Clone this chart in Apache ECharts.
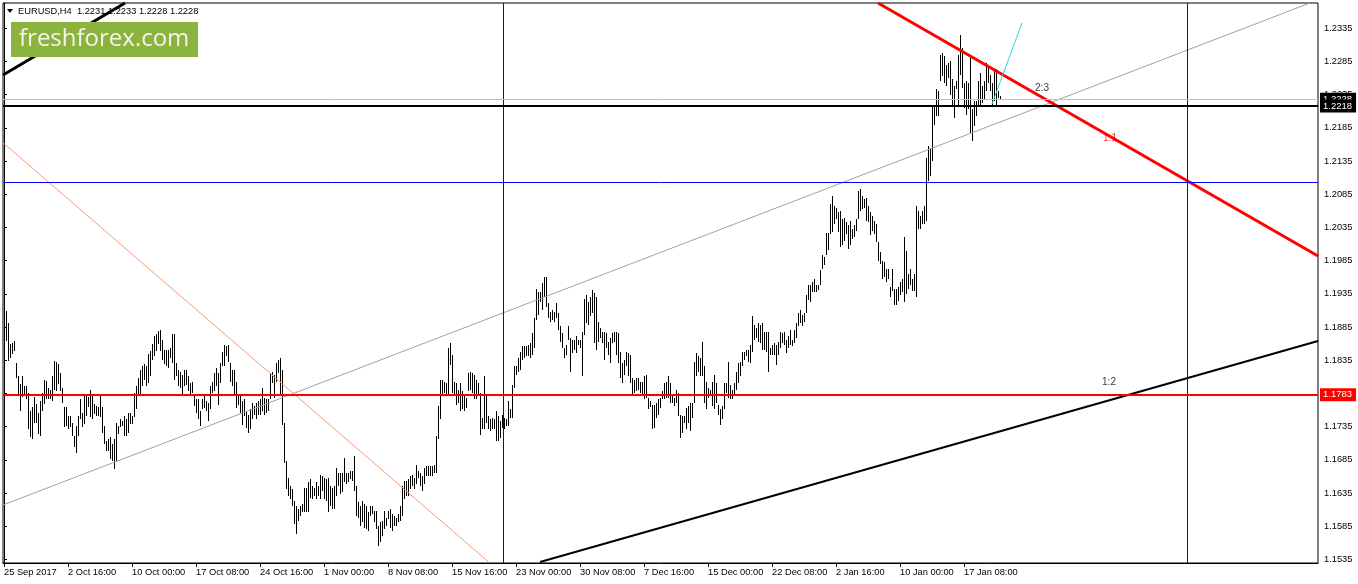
<!DOCTYPE html>
<html>
<head>
<meta charset="utf-8">
<script src="https://cdn.jsdelivr.net/npm/echarts@6.0.0/dist/echarts.min.js"></script>
<style>
html,body{margin:0;padding:0;background:#fff;}
#chart{width:1358px;height:584px;}
</style>
</head>
<body>
<div id="chart"></div>
<script>
// EURUSD H4, one entry per bar (high / low)
var barHigh = [
1.1936,1.1909,1.1891,1.1859,1.1861,1.1864,1.1831,1.1811,1.1799,1.1811,
1.1796,1.1796,1.1786,1.1759,1.1764,1.1779,1.1769,1.1756,1.1774,1.1786,
1.1806,1.1804,1.1794,1.1791,1.1811,1.1834,1.1832,1.1829,1.1816,1.1794,
1.1764,1.1764,1.1751,1.1751,1.1741,1.1721,1.1736,1.1751,1.1776,1.1756,
1.1784,1.1781,1.1779,1.1790,1.1784,1.1769,1.1766,1.1764,1.1781,1.1764,
1.1736,1.1714,1.1716,1.1719,1.1709,1.1716,1.1741,1.1736,1.1746,1.1744,
1.1751,1.1746,1.1756,1.1756,1.1751,1.1786,1.1796,1.1809,1.1821,1.1826,
1.1829,1.1826,1.1844,1.1849,1.1859,1.1871,1.1874,1.1879,1.1881,1.1866,
1.1851,1.1851,1.1851,1.1854,
1.1875,1.1875,1.1831,1.1821,1.1818,1.1813,
1.1821,1.1821,1.1811,1.1801,1.1803,1.1781,1.1776,1.1776,1.1758,1.1776,
1.1781,1.1773,1.1771,1.1796,1.1803,1.1816,1.1823,1.1816,1.1831,1.1848,
1.1858,1.1856,1.1858,1.1831,1.1821,1.1821,1.1803,1.1781,1.1783,1.1773,
1.1776,1.1758,1.1753,1.1761,1.1771,1.1766,1.1771,1.1773,1.1776,1.1793,
1.1778,1.1776,1.1776,1.1816,1.1818,1.1813,1.1831,1.1836,1.1838,1.1821,
1.1741,1.1683,1.1658,1.1646,1.1641,1.1623,1.1616,1.1611,1.1616,1.1618,
1.1643,1.1643,1.1651,1.1656,1.1646,1.1643,1.1651,1.1646,1.1663,1.1661,
1.1658,1.1656,1.1658,1.1646,1.1643,1.1646,
1.1673,1.1666,1.1666,1.1666,
1.1688,1.1666,1.1666,1.1668,1.1668,1.1691,1.1646,1.1621,1.1616,1.1623,
1.1618,1.1616,1.1606,1.1616,1.1616,1.1608,1.1608,1.1586,1.1591,1.1593,
1.1608,1.1598,1.1608,1.1611,1.1603,1.1601,1.1598,1.1603,1.1616,1.1646,
1.1653,1.1653,1.1656,1.1661,1.1663,1.1658,1.1678,1.1668,1.1666,1.1661,
1.1673,1.1676,1.1676,1.1676,1.1676,1.1678,1.1721,1.1766,1.1806,1.1806,
1.1803,1.1801,1.1853,1.1861,1.1843,1.1803,1.1801,1.1791,1.1801,1.1788,
1.1781,1.1778,1.1816,1.1818,1.1816,1.1813,1.1806,1.1801,1.1786,1.1748,
1.1811,1.1783,1.1751,1.1746,1.1748,1.1746,1.1758,1.1751,1.1743,
1.1753,
1.1748,1.1746,1.1773,1.1761,1.1798,1.1826,1.1826,1.1838,1.1848,1.1856,
1.1856,1.1856,1.1858,1.1861,1.1876,1.1898,1.1943,1.1938,1.1938,1.1951,
1.1961,1.1961,1.1921,1.1908,1.1911,1.1908,1.1921,1.1906,1.1886,1.1876,
1.1853,1.1858,1.1886,1.1868,1.1866,1.1866,1.1871,1.1866,1.1866,1.1878,
1.1928,1.1933,1.1923,1.1931,1.1941,1.1936,1.1931,1.1893,1.1883,1.1878,
1.1878,1.1876,1.1863,1.1868,1.1876,1.1878,1.1878,1.1876,1.1848,1.1831,
1.1836,1.1848,1.1846,1.1843,1.1808,1.1806,1.1808,1.1808,1.1803,1.1803,
1.1811,1.1813,1.1778,1.1773,1.1768,1.1768,1.1771,1.1776,1.1778,1.1788,1.1801,
1.1803,1.1811,1.1801,1.1781,1.1778,1.1791,1.1786,1.1753,1.1751,
1.1751,1.1763,1.1766,1.1771,1.1771,1.1833,1.1846,1.1841,1.1838,1.1863,
1.1826,1.1803,1.1793,1.1791,1.1803,1.1813,1.1801,1.1768,1.1761,1.1766,
1.1801,1.1801,1.1833,1.1798,1.1791,1.1801,1.1818,1.1831,1.1833,1.1848,
1.1848,1.1851,1.1851,1.1858,1.1901,1.1888,1.1883,1.1891,1.1888,1.1891,
1.1878,1.1878,1.1878,1.1853,1.1858,1.1861,1.1858,1.1863,1.1878,1.1876,
1.1878,1.1866,1.1871,1.1881,1.1866,1.1881,1.1891,1.1906,1.1911,1.1903,
1.1906,1.1933,1.1948,1.1948,1.1953,1.1958,1.1948,1.1948,1.1971,1.1993,
1.1991,1.2026,1.2026,
1.2070,1.2083,1.2068,1.2065,1.2058,1.2060,1.2048,
1.2050,1.2043,1.2038,1.2045,1.2033,1.2038,1.2048,1.2090,1.2093,1.2083,
1.2078,1.2080,1.2068,1.2058,1.2053,1.2045,1.2040,1.2013,1.1998,1.1985,
1.1983,1.1973,1.1973,1.1945,1.1973,1.1943,1.1943,1.1945,1.1953,1.1958,
1.2020,1.2000,1.1965,1.1973,1.1958,1.1965,1.2068,1.2060,1.2053,1.2060,
1.2068,1.2140,1.2158,1.2155,1.2220,1.2220,1.2243,1.2240,1.2295,1.2298,
1.2293,1.2280,1.2283,1.2285,1.2258,1.2248,1.2255,1.2295,1.2325,1.2305,
1.2253,1.2255,1.2253,1.2290,1.2213,1.2225,1.2225,1.2255,1.2268,1.2248,
1.2255,1.2283,1.2280,1.2265,1.2253,1.2270,1.2273,1.2240,1.2233
];
var barLow = [
1.1899,1.1864,1.1834,1.1839,1.1844,1.1849,1.1809,1.1781,1.1759,1.1779,
1.1781,1.1776,1.1731,1.1719,1.1717,1.1741,1.1741,1.1724,1.1721,1.1759,
1.1769,1.1776,1.1776,1.1776,1.1774,1.1791,1.1789,1.1799,1.1789,1.1771,
1.1734,1.1736,1.1731,1.1734,1.1721,1.1704,1.1696,1.1721,1.1746,1.1734,
1.1739,1.1751,1.1764,1.1749,1.1746,1.1754,1.1751,1.1751,1.1749,1.1726,
1.1709,1.1699,1.1699,1.1686,1.1684,1.1671,1.1684,1.1724,1.1734,1.1736,
1.1721,1.1721,1.1726,1.1739,1.1739,1.1749,1.1761,1.1784,1.1784,1.1796,
1.1806,1.1796,1.1801,1.1811,1.1836,1.1841,1.1849,1.1859,1.1849,1.1836,
1.1829,1.1826,1.1824,1.1839,
1.1831,1.1806,1.1811,1.1796,1.1793,1.1783,
1.1796,1.1798,1.1788,1.1783,1.1786,1.1766,1.1756,1.1746,1.1736,1.1761,
1.1763,1.1758,1.1743,1.1761,1.1786,1.1788,1.1796,1.1768,1.1801,1.1826,
1.1826,1.1841,1.1833,1.1803,1.1796,1.1783,1.1763,1.1768,1.1756,1.1738,
1.1751,1.1733,1.1726,1.1731,1.1746,1.1753,1.1746,1.1753,1.1753,1.1758,
1.1753,1.1756,1.1758,1.1776,1.1801,1.1778,1.1803,1.1816,1.1781,1.1738,
1.1681,1.1641,1.1631,1.1626,1.1616,1.1588,1.1573,1.1593,1.1601,1.1606,
1.1606,1.1606,1.1606,1.1628,1.1626,1.1631,1.1626,1.1631,1.1626,1.1638,
1.1626,1.1623,1.1606,1.1616,1.1611,1.1611,
1.1631,1.1646,1.1633,1.1636,
1.1651,1.1648,1.1651,1.1656,1.1653,1.1638,1.1601,1.1598,1.1586,1.1591,
1.1583,1.1581,1.1578,1.1601,1.1603,1.1591,1.1581,1.1556,1.1561,1.1571,
1.1581,1.1586,1.1596,1.1583,1.1578,1.1586,1.1586,1.1591,1.1593,1.1601,
1.1626,1.1631,1.1631,1.1641,1.1646,1.1641,1.1648,1.1658,1.1646,1.1638,
1.1648,1.1661,1.1661,1.1661,1.1661,1.1666,1.1666,1.1716,1.1746,1.1781,
1.1786,1.1783,1.1783,1.1828,1.1786,1.1783,1.1768,1.1771,1.1758,1.1761,
1.1758,1.1763,1.1788,1.1791,1.1786,1.1776,1.1776,1.1783,1.1723,1.1731,
1.1731,1.1741,1.1731,1.1728,1.1731,1.1731,1.1713,1.1713,1.1718,
1.1733,
1.1731,1.1736,1.1736,1.1748,1.1748,1.1793,1.1813,1.1818,1.1821,1.1836,
1.1838,1.1841,1.1841,1.1838,1.1843,1.1853,1.1896,1.1903,1.1923,1.1911,
1.1931,1.1916,1.1898,1.1893,1.1896,1.1893,1.1898,1.1881,1.1863,1.1853,
1.1838,1.1843,1.1866,1.1818,1.1846,1.1851,1.1846,1.1858,1.1853,1.1811,
1.1873,1.1891,1.1888,1.1901,1.1906,1.1861,1.1851,1.1863,1.1868,1.1861,
1.1836,1.1853,1.1843,1.1831,1.1861,1.1863,1.1843,1.1831,1.1808,1.1801,
1.1813,1.1826,1.1811,1.1801,1.1783,1.1786,1.1788,1.1791,1.1786,1.1783,
1.1776,1.1778,1.1761,1.1764,1.1731,1.1733,1.1748,1.1753,1.1763,1.1776,1.1776,
1.1778,1.1778,1.1771,1.1771,1.1766,1.1771,1.1751,1.1718,1.1726,
1.1741,1.1731,1.1741,1.1728,1.1748,1.1771,1.1811,1.1818,1.1811,1.1811,
1.1771,1.1761,1.1778,1.1781,1.1766,1.1761,1.1771,1.1753,1.1738,1.1746,
1.1761,1.1786,1.1778,1.1776,1.1776,1.1783,1.1791,1.1801,1.1811,1.1826,
1.1836,1.1841,1.1833,1.1831,1.1848,1.1866,1.1868,1.1863,1.1861,1.1851,
1.1851,1.1848,1.1818,1.1843,1.1843,1.1843,1.1828,1.1843,1.1853,1.1861,
1.1858,1.1846,1.1853,1.1858,1.1856,1.1861,1.1868,1.1886,1.1891,1.1886,
1.1893,1.1906,1.1926,1.1923,1.1938,1.1938,1.1938,1.1941,1.1948,1.1973,
1.1978,1.1993,1.2001,
1.2025,1.2028,1.2040,1.2048,1.2028,1.2005,1.2008,
1.2015,1.2025,1.2003,1.2008,1.2018,1.2020,1.2030,1.2048,1.2060,1.2063,
1.2065,1.2045,1.2043,1.2023,1.2030,1.2025,1.2013,1.1985,1.1980,1.1958,
1.1960,1.1953,1.1958,1.1930,1.1940,1.1918,1.1918,1.1925,1.1933,1.1938,
1.1923,1.1935,1.1943,1.1948,1.1940,1.1940,1.1930,1.2033,1.2033,1.2040,
1.2040,1.2045,1.2105,1.2113,1.2135,1.2190,1.2203,1.2203,1.2255,1.2263,
1.2253,1.2248,1.2260,1.2235,1.2218,1.2200,1.2243,1.2220,1.2265,1.2245,
1.2215,1.2205,1.2213,1.2178,1.2165,1.2188,1.2203,1.2220,1.2220,1.2223,
1.2228,1.2240,1.2253,1.2240,1.2218,1.2225,1.2218,1.2230,1.2228
];

// time axis: a label every 32 bars
var dateLabels = ['25 Sep 2017','2 Oct 16:00','10 Oct 00:00','17 Oct 08:00','24 Oct 16:00',
  '1 Nov 00:00','8 Nov 08:00','15 Nov 16:00','23 Nov 00:00','30 Nov 08:00','7 Dec 16:00',
  '15 Dec 00:00','22 Dec 08:00','2 Jan 16:00','10 Jan 00:00','17 Jan 08:00'];
var dateTickBars = [0,32,64,96,128,160,192,224,256,288,320,352,384,416,448,480];
var priceTicks = [1.1535,1.1585,1.1635,1.1685,1.1735,1.1785,1.1835,1.1885,1.1935,1.1985,
  1.2035,1.2085,1.2135,1.2185,1.2235,1.2285,1.2335];
var headerText = 'EURUSD,H4  1.2231 1.2233 1.2228 1.2228';

// chart objects (bar index, price)
var redLevel = 1.1783;
var blueLevel = 1.2103;
var blackLevel = 1.2218;
var bidLevel = 1.2228;
var vLines = [249.5, 591.5];
var grayChannel = [[-0.5, 1.16171], [653, 1.23731]];
var salmonLine = [[-0.5, 1.21626], [242.3, 1.15312]];
var redTrend = [[437, 1.23731], [657, 1.19921]];
var blackTrend = [[268, 1.15312], [657, 1.18641]];
var blackTopLeft = [[-0.5, 1.22647], [60.5, 1.23731]];
var cyanLine = [[494, 1.2221], [509, 1.2343]];
var ratioTexts = [[519, 1.22451, '2:3'], [553, 1.21698, '1:1'], [552.5, 1.18023, '1:2']];
var ratioColors = ['#000', '#ff0000', '#000'];

var axisFont = 'Liberation Sans';
var chart = echarts.init(document.getElementById('chart'));

var bars = [];
for (var i = 0; i < barHigh.length; i++) {
    bars.push([i, barLow[i], barHigh[i]]);
}

function trend(data, color, width) {
    return {
        type: 'line', data: data, z: 4, silent: true, symbol: 'none',
        lineStyle: {color: color, width: width}, clip: true, animation: false
    };
}

function levelLabel(bg) {
    return {
        show: true, position: 'end', distance: 2, formatter: function (p) { return p.value.toFixed(4); },
        color: '#fff', backgroundColor: bg, padding: [2, 4, 1, 3],
        fontFamily: axisFont, fontSize: 9.5
    };
}

var option = {
    animation: false,
    backgroundColor: '#fff',
    grid: {left: 3, top: 3, right: 40, bottom: 21, show: true, borderColor: '#000', borderWidth: 1},
    xAxis: {
        type: 'value', min: -0.5, max: 657,
        splitLine: {show: false},
        axisLine: {show: true, onZero: false, lineStyle: {color: '#000'}},
        axisTick: {show: true, customValues: dateTickBars, length: 4, lineStyle: {color: '#000'}},
        axisLabel: {
            customValues: dateTickBars, align: 'left', margin: 5,
            color: '#000', fontFamily: axisFont, fontSize: 9.3,
            formatter: function (v) { return dateLabels[Math.round(v / 32)]; }
        }
    },
    yAxis: {
        type: 'value', position: 'right', min: 1.152972, max: 1.237308,
        splitLine: {show: false},
        axisLine: {show: true, lineStyle: {color: '#000'}},
        axisTick: {show: true, customValues: priceTicks, length: 3, lineStyle: {color: '#000'}},
        axisLabel: {
            customValues: priceTicks, margin: 6, color: '#000',
            fontFamily: axisFont, fontSize: 9.3,
            formatter: function (v) { return v.toFixed(4); }
        }
    },
    graphic: [
        {type: 'polygon', z: 100, shape: {points: [[7, 9], [13, 9], [10, 13]]}, style: {fill: '#000'}},
        {type: 'text', z: 100, x: 18, y: 11, style: {text: headerText, fill: '#000',
            font: '9.3px "Liberation Sans"', verticalAlign: 'middle'}},
        {type: 'rect', z: 100, shape: {x: 11, y: 22, width: 187, height: 35}, style: {fill: '#8db33f'}},
        {type: 'text', z: 101, x: 19, y: 39, style: {text: 'freshforex.com', fill: '#f4f4ea',
            font: '24px "Open Sans"', verticalAlign: 'middle'}}
    ],
    series: [
        {
            type: 'custom', z: 2, data: bars, silent: true, clip: true,
            encode: {x: 0, y: [1, 2]},
            renderItem: function (params, api) {
                var lo = api.coord([api.value(0), api.value(1)]);
                var hi = api.coord([api.value(0), api.value(2)]);
                var x = Math.round(lo[0]) + 0.5;
                var y2 = Math.min(Math.round(hi[1]), Math.round(lo[1]) - 1);
                return {type: 'line', shape: {x1: x, y1: Math.round(lo[1]), x2: x, y2: y2},
                    style: {stroke: '#000', lineWidth: 1}};
            }
        },
        trend(grayChannel, '#a0a0a0', 1),
        trend(salmonLine, '#f59a78', 1),
        trend(blackTopLeft, '#000', 3),
        trend(blackTrend, '#000', 2),
        trend(redTrend, '#ff0000', 3),
        trend(cyanLine, '#30d8d0', 1),
        {
            type: 'line', data: [], z: 3, silent: true,
            markLine: {
                silent: true, symbol: ['none', 'none'], animation: false, precision: 6,
                data: [
                    {yAxis: blueLevel, lineStyle: {color: '#0000ff', width: 1, type: 'solid'}, label: {show: false}},
                    {xAxis: vLines[0], lineStyle: {color: '#0000ff', width: 1, type: 'solid'}, label: {show: false}},
                    {xAxis: vLines[1], lineStyle: {color: '#0000ff', width: 1, type: 'solid'}, label: {show: false}},
                    {yAxis: bidLevel, lineStyle: {color: '#c0c0c0', width: 1, type: 'solid'}, label: levelLabel('#000')},
                    {yAxis: blackLevel, lineStyle: {color: '#000', width: 2, type: 'solid'}, label: levelLabel('#000')},
                    {yAxis: redLevel, lineStyle: {color: '#ff0000', width: 2, type: 'solid'}, label: levelLabel('#ff0000')}
                ]
            }
        },
        {
            type: 'scatter', z: 5, silent: true, symbolSize: 0,
            data: ratioTexts.map(function (t, k) {
                return {value: [t[0], t[1]], name: t[2],
                    label: {show: true, position: 'inside', formatter: t[2], color: ratioColors[k],
                        fontFamily: axisFont, fontSize: 10}};
            })
        }
    ]
};

chart.setOption(option);
window.onresize = chart.resize;
</script>
</body>
</html>
